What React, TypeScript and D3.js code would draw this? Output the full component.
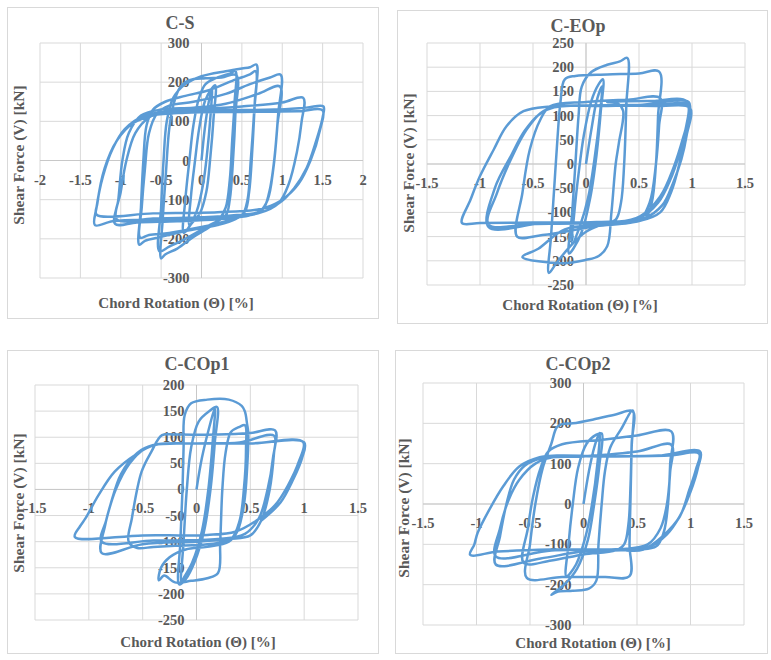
import React from "react";
import * as d3 from "d3";

type Pt = [number, number];

// Shear force V [kN] against chord rotation Θ [%], cyclic test records
const csPath: Pt[] = [
  [0, 0], [0.04, 80], [0.09, 150], [0.13, 185], [0.11, 110], [0.07, 20], [0.02, -60], [-0.06, -130], [-0.15, -165],
  [-0.13, -90], [-0.08, 0], [-0.03, 80], [0.04, 150], [0.12, 182], [0.17, 192], [0.15, 110], [0.11, 10], [0.06, -80], [-0.02, -135], [-0.12, -160], [-0.22, -185],
  [-0.2, -100], [-0.15, 0], [-0.1, 90], [-0.03, 160], [0.05, 195], [0.2, 212], [0.35, 222], [0.42, 228], [0.41, 150], [0.38, 50], [0.35, -50], [0.3, -120], [0.22, -150], [0.1, -170], [-0.1, -195], [-0.3, -225], [-0.45, -240], [-0.5, -250],
  [-0.48, -150], [-0.44, -30], [-0.4, 80], [-0.35, 140], [-0.27, 185], [-0.15, 205], [0.05, 210], [0.25, 212], [0.43, 218], [0.42, 120], [0.39, 0], [0.35, -100], [0.3, -140], [0.1, -165], [-0.2, -200], [-0.4, -220], [-0.52, -232],
  [-0.5, -120], [-0.47, 0], [-0.43, 100], [-0.35, 160], [-0.2, 195], [0, 215], [0.3, 228], [0.5, 235], [0.6, 238], [0.68, 245], [0.66, 150], [0.63, 30], [0.59, -80], [0.54, -130], [0.42, -150], [0.2, -165], [-0.2, -180], [-0.5, -195], [-0.7, -205], [-0.77, -215],
  [-0.75, -120], [-0.72, 0], [-0.68, 90], [-0.6, 130], [-0.45, 150], [-0.2, 165], [0.1, 180], [0.4, 205], [0.6, 220], [0.67, 228], [0.65, 120], [0.61, 0], [0.57, -100], [0.5, -140], [0.3, -155], [0, -170], [-0.4, -185], [-0.65, -190], [-0.76, -197],
  [-0.74, -120], [-0.7, -20], [-0.65, 70], [-0.55, 120], [-0.4, 140], [-0.1, 150], [0.3, 170], [0.6, 195], [0.85, 212], [0.98, 219], [0.95, 120], [0.9, 0], [0.84, -80], [0.76, -125], [0.6, -140], [0.2, -150], [-0.3, -155], [-0.8, -158], [-1.07, -162],
  [-1.03, -100], [-0.98, 0], [-0.9, 70], [-0.75, 115], [-0.5, 130], [-0.1, 135], [0.3, 145], [0.7, 170], [0.97, 189], [0.94, 90], [0.89, -20], [0.82, -100], [0.72, -130], [0.4, -140], [0, -145], [-0.6, -148], [-1.05, -150],
  [-1.0, -80], [-0.93, 0], [-0.82, 70], [-0.65, 110], [-0.4, 128], [0, 132], [0.5, 138], [1.0, 148], [1.26, 160], [1.24, 100], [1.18, 20], [1.08, -60], [0.95, -110], [0.7, -135], [0.2, -145], [-0.5, -150], [-1.1, -155], [-1.32, -165],
  [-1.3, -120], [-1.22, -40], [-1.1, 30], [-0.95, 80], [-0.7, 115], [-0.4, 125], [0.2, 128], [0.9, 130], [1.3, 135], [1.51, 138], [1.5, 110], [1.42, 50], [1.3, -20], [1.15, -70], [0.95, -110], [0.7, -125], [0.2, -132], [-0.6, -135], [-1.3, -138],
  [-1.29, -110], [-1.2, -20], [-1.05, 50], [-0.85, 95], [-0.6, 115], [-0.2, 122], [0.5, 124], [1.2, 126], [1.5, 128], [1.47, 80], [1.35, 0], [1.2, -60], [1.0, -100], [0.8, -120],
];

const ceopPath: Pt[] = [
  [0, 0], [0.05, 70], [0.1, 130], [0.15, 160], [0.13, 100], [0.08, 10], [0.02, -70], [-0.06, -130], [-0.13, -165],
  [-0.11, -100], [-0.07, -20], [-0.02, 60], [0.05, 130], [0.12, 165], [0.16, 175], [0.14, 110], [0.1, 20], [0.04, -70], [-0.04, -140], [-0.12, -175], [-0.16, -185],
  [-0.13, -100], [-0.1, 0], [-0.07, 100], [-0.04, 160], [0.05, 190], [0.2, 205], [0.32, 212], [0.39, 219], [0.38, 120], [0.36, 0], [0.33, -80], [0.28, -115], [0.15, -125], [0, -140], [-0.15, -170], [-0.28, -205], [-0.35, -225],
  [-0.33, -150], [-0.3, -50], [-0.27, 50], [-0.24, 130], [-0.2, 175], [-0.1, 182], [0.2, 185], [0.5, 187], [0.69, 191], [0.68, 100], [0.66, 0], [0.62, -80], [0.56, -112], [0.4, -122], [0.1, -128], [-0.2, -140], [-0.45, -148], [-0.65, -150],
  [-0.6, -60], [-0.53, 30], [-0.43, 92], [-0.34, 119], [0, 128], [0.4, 133], [0.7, 136], [0.69, 80], [0.66, 0], [0.6, -80], [0.5, -115], [0.2, -125], [-0.2, -135], [-0.45, -175], [-0.6, -192],
  [-0.22, -205], [0, -198], [0.12, -190], [0.2, -170], [0.24, -100], [0.28, 0], [0.31, 43], [0.35, 110], [0.3, 125], [0.2, 128], [0.6, 130], [0.95, 129], [0.93, 60], [0.88, 0], [0.8, -60], [0.7, -100], [0.5, -118], [0.1, -122], [-0.5, -124], [-0.92, -125],
  [-0.84, -60], [-0.68, 23], [-0.56, 71], [-0.43, 105], [-0.3, 118], [0.2, 120], [0.7, 120], [0.98, 116], [0.95, 60], [0.9, 10], [0.82, -40], [0.72, -85], [0.55, -112], [0.2, -120], [-0.4, -122], [-0.92, -130],
  [-0.86, -50], [-0.7, 20], [-0.58, 68], [-0.44, 103], [-0.3, 117], [0.2, 121], [0.7, 123], [0.97, 122], [0.95, 70], [0.88, 20], [0.8, -30], [0.68, -80], [0.5, -112], [0.1, -120], [-0.5, -121], [-1.0, -122], [-1.17, -122],
  [-1.09, -74], [-1.0, -25], [-0.87, 30], [-0.75, 78], [-0.59, 109], [-0.34, 119], [0, 121], [0.5, 122], [0.97, 128], [0.97, 100], [0.92, 57], [0.83, -5], [0.7, -67], [0.51, -108], [0.3, -120],
];

const ccop1Path: Pt[] = [
  [0, 0], [0.05, 60], [0.12, 120], [0.17, 155], [0.15, 90], [0.11, 0], [0.05, -80], [-0.04, -140], [-0.12, -170], [-0.14, -177],
  [-0.12, -100], [-0.09, 0], [-0.05, 80], [0.02, 130], [0.12, 150], [0.19, 158], [0.17, 90], [0.13, 0], [0.07, -80], [-0.02, -140], [-0.1, -172], [-0.16, -182],
  [-0.15, -100], [-0.13, 0], [-0.12, 80], [-0.11, 142], [-0.05, 165], [0.1, 172], [0.3, 172], [0.42, 160], [0.45, 149], [0.47, 125], [0.48, 110], [0.47, 40], [0.44, -30], [0.38, -80], [0.3, -100], [0.1, -110], [-0.1, -115], [-0.25, -130], [-0.33, -150], [-0.35, -174],
  [-0.3, -165], [-0.2, -178], [-0.05, -175], [0.1, -170], [0.2, -160], [0.22, -100], [0.24, 0], [0.27, 70], [0.32, 110], [0.4, 120], [0.45, 123], [0.46, 80], [0.44, 0], [0.4, -60], [0.32, -95], [0.1, -105], [-0.2, -108], [-0.4, -110], [-0.55, -112], [-0.63, -100],
  [-0.6, -55], [-0.51, 34], [-0.42, 72], [-0.32, 104], [-0.2, 105], [0.2, 105], [0.5, 108], [0.73, 113], [0.72, 70], [0.68, 0], [0.6, -60], [0.5, -88], [0.3, -95], [0, -100], [-0.5, -105], [-0.88, -122],
  [-0.85, -70], [-0.8, -30], [-0.7, 30], [-0.55, 70], [-0.4, 85], [0, 88], [0.4, 90], [0.72, 103], [0.71, 60], [0.66, 0], [0.58, -55], [0.45, -85], [0.2, -95], [-0.4, -98], [-0.88, -100],
  [-0.84, -60], [-0.75, 0], [-0.62, 50], [-0.48, 78], [-0.35, 87], [0, 88], [0.5, 88], [0.99, 91], [0.95, 53], [0.85, 8], [0.73, -30], [0.54, -62], [0.36, -81], [0.1, -87], [-0.5, -88], [-1.13, -91],
  [-1.08, -70], [-1.03, -55], [-0.91, -11], [-0.76, 34], [-0.57, 66], [-0.39, 85], [0, 88], [0.5, 88], [1.0, 90], [0.98, 60], [0.9, 20], [0.78, -25], [0.6, -60],
];

const ccop2Path: Pt[] = [
  [0, 0], [0.05, 80], [0.1, 140], [0.15, 176], [0.13, 100], [0.08, 0], [0.02, -80], [-0.07, -150], [-0.16, -179],
  [-0.14, -100], [-0.1, 0], [-0.05, 90], [0.03, 150], [0.12, 172], [0.17, 175], [0.15, 100], [0.1, 0], [0.04, -90], [-0.06, -160], [-0.18, -200], [-0.3, -225],
  [-0.25, -218], [-0.1, -215], [0.05, -210], [0.12, -190], [0.14, -100], [0.17, 0], [0.2, 80], [0.25, 140], [0.35, 185], [0.46, 232], [0.45, 140], [0.44, 20], [0.43, -100], [0.43, -179], [0.2, -181], [-0.2, -181], [-0.53, -183],
  [-0.5, -100], [-0.45, 0], [-0.38, 90], [-0.3, 150], [-0.25, 190], [-0.2, 198], [-0.1, 200], [0.1, 210], [0.3, 222], [0.46, 230], [0.45, 150], [0.44, 50], [0.42, -50], [0.38, -100], [0.3, -115], [0, -125], [-0.3, -140], [-0.56, -146],
  [-0.52, -60], [-0.47, 20], [-0.4, 90], [-0.33, 130], [-0.2, 148], [0.2, 160], [0.5, 170], [0.82, 180], [0.81, 100], [0.79, 0], [0.75, -70], [0.68, -105], [0.5, -113], [0, -118], [-0.4, -135], [-0.82, -150],
  [-0.78, -80], [-0.72, 0], [-0.65, 60], [-0.55, 95], [-0.4, 113], [0, 118], [0.5, 130], [0.82, 147], [0.81, 80], [0.78, 0], [0.72, -60], [0.6, -100], [0.3, -113], [-0.3, -115], [-0.82, -130],
  [-0.78, -60], [-0.7, 10], [-0.6, 60], [-0.45, 100], [-0.3, 115], [0.2, 118], [0.7, 120], [1.09, 130], [1.07, 90], [1.0, 30], [0.9, -30], [0.78, -75], [0.62, -105], [0.3, -112], [-0.3, -113], [-0.8, -118], [-1.06, -126],
  [-1.02, -100], [-0.99, -72], [-0.88, -14], [-0.75, 44], [-0.6, 93], [-0.41, 116], [-0.25, 120], [0.3, 118], [0.8, 120], [1.08, 125], [1.05, 85], [0.99, 36], [0.9, -31], [0.74, -80], [0.56, -113], [0.4, -115],
];

const csXTicks = [-2, -1.5, -1, -0.5, 0, 0.5, 1, 1.5, 2];
const commonXTicks = [-1.5, -1, -0.5, 0, 0.5, 1, 1.5];
const csYTicks = [300, 200, 100, 0, -100, -200, -300];
const ceopYTicks = [250, 200, 150, 100, 50, 0, -50, -100, -150, -200, -250];
const ccop1YTicks = [200, 150, 100, 50, 0, -50, -100, -150, -200, -250];
const ccop2YTicks = [300, 200, 100, 0, -100, -200, -300];

const specimenNames = ["C-S", "C-EOp", "C-COp1", "C-COp2"];
const xTitle = "Chord Rotation (\u0398) [%]";
const yTitle = "Shear Force (V) [kN]";

const FONT = "'Liberation Serif', 'Times New Roman', serif";
const TEXT = "#595959";
const GRID = "#d9d9d9";
const LINE = "#5b9bd5";

type Box = { x0: number; y0: number; x1: number; y1: number };
type PanelProps = {
  name: string;
  data: Pt[];
  xTicks: number[];
  yTicks: number[];
  frame: Box;
  plot: Box;
  titlePos: [number, number];
  yTitlePos: [number, number];
  xTitlePos: [number, number];
};

function Panel(p: PanelProps) {
  const x = d3
    .scaleLinear()
    .domain([d3.min(p.xTicks)!, d3.max(p.xTicks)!])
    .range([p.plot.x0, p.plot.x1]);
  const y = d3
    .scaleLinear()
    .domain([d3.min(p.yTicks)!, d3.max(p.yTicks)!])
    .range([p.plot.y1, p.plot.y0]);
  const line = d3
    .line<Pt>()
    .x((d) => x(d[0]))
    .y((d) => y(d[1]))
    .curve(d3.curveCatmullRom.alpha(0.5));
  const x0 = x(0);
  const y0 = y(0);
  return (
    <g>
      <rect
        x={p.frame.x0 + 0.5}
        y={p.frame.y0 + 0.5}
        width={p.frame.x1 - p.frame.x0}
        height={p.frame.y1 - p.frame.y0}
        fill="#fff"
        stroke={GRID}
      />
      {p.xTicks.map((t) => (
        <line key={"vx" + t} x1={x(t)} x2={x(t)} y1={p.plot.y0} y2={p.plot.y1} stroke={GRID} strokeWidth={1} />
      ))}
      {p.yTicks.map((t) => (
        <line key={"hy" + t} x1={p.plot.x0} x2={p.plot.x1} y1={y(t)} y2={y(t)} stroke={GRID} strokeWidth={1} />
      ))}
      <line x1={p.plot.x0} x2={p.plot.x1} y1={y0} y2={y0} stroke="#c8c8c8" />
      <line x1={x0} x2={x0} y1={p.plot.y0} y2={p.plot.y1} stroke="#c8c8c8" />
      <g fontFamily={FONT} fontWeight="bold" fill={TEXT} fontSize={14.5}>
        {p.yTicks.map((t) => (
          <text key={"yl" + t} x={x0 - 12} y={y(t) + 5} textAnchor="end">
            {String(t)}
          </text>
        ))}
        {p.xTicks.map((t) => (
          <text key={"xl" + t} x={x(t)} y={y0 + 24} textAnchor="middle">
            {String(t)}
          </text>
        ))}
      </g>
      <path d={line(p.data) || ""} fill="none" stroke={LINE} strokeWidth={2.5} strokeLinejoin="round" />
      <g fontFamily={FONT} fontWeight="bold" fill={TEXT}>
        <text x={p.titlePos[0]} y={p.titlePos[1]} textAnchor="middle" fontSize={18}>
          {p.name}
        </text>
        <text x={p.xTitlePos[0]} y={p.xTitlePos[1]} textAnchor="middle" fontSize={15}>
          {xTitle}
        </text>
        <text
          transform={`translate(${p.yTitlePos[0]},${p.yTitlePos[1]}) rotate(-90)`}
          textAnchor="middle"
          dominantBaseline="central"
          fontSize={15.5}
        >
          {yTitle}
        </text>
      </g>
    </g>
  );
}

export default function App() {
  return (
    <svg
      width={771}
      height={660}
      style={{ position: "absolute", left: 0, top: 0, background: "#fff" }}
    >
      <Panel
        name={specimenNames[0]}
        data={csPath}
        xTicks={csXTicks}
        yTicks={csYTicks}
        frame={{ x0: 7, y0: 7, x1: 378, y1: 318 }}
        plot={{ x0: 40, y0: 43, x1: 363, y1: 278 }}
        titlePos={[180, 29]}
        yTitlePos={[18, 155]}
        xTitlePos={[176, 308]}
      />
      <Panel
        name={specimenNames[1]}
        data={ceopPath}
        xTicks={commonXTicks}
        yTicks={ceopYTicks}
        frame={{ x0: 397, y0: 10, x1: 767, y1: 323 }}
        plot={{ x0: 427, y0: 43, x1: 745, y1: 285 }}
        titlePos={[578, 32]}
        yTitlePos={[408, 163]}
        xTitlePos={[580, 310]}
      />
      <Panel
        name={specimenNames[2]}
        data={ccop1Path}
        xTicks={commonXTicks}
        yTicks={ccop1YTicks}
        frame={{ x0: 7, y0: 350, x1: 378, y1: 653 }}
        plot={{ x0: 35, y0: 385, x1: 358, y1: 620 }}
        titlePos={[197, 370]}
        yTitlePos={[18, 503]}
        xTitlePos={[198, 647]}
      />
      <Panel
        name={specimenNames[3]}
        data={ccop2Path}
        xTicks={commonXTicks}
        yTicks={ccop2YTicks}
        frame={{ x0: 395, y0: 350, x1: 767, y1: 653 }}
        plot={{ x0: 423, y0: 383, x1: 744, y1: 625 }}
        titlePos={[578, 370]}
        yTitlePos={[403, 508]}
        xTitlePos={[593, 648]}
      />
    </svg>
  );
}
